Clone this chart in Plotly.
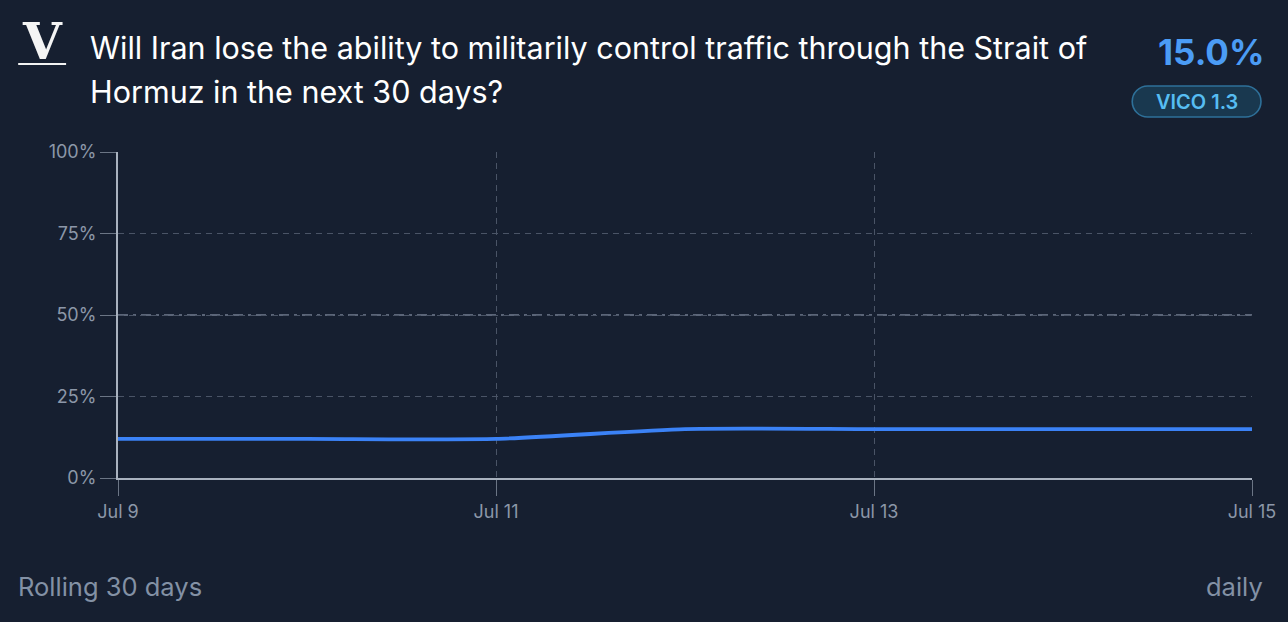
import plotly.graph_objects as go

# ---- data ----
dates = ["2025-07-09", "2025-07-10", "2025-07-11", "2025-07-12", "2025-07-13", "2025-07-14", "2025-07-15"]
probability = [12.0, 12.0, 12.0, 15.0, 15.0, 15.0, 15.0]
x_tick_vals = ["2025-07-09", "2025-07-11", "2025-07-13", "2025-07-15"]
x_tick_text = ["Jul 9", "Jul 11", "Jul 13", "Jul 15"]
y_tick_vals = [0, 25, 50, 75, 100]
y_tick_text = ["0%", "25%", "50%", "75%", "100%"]
title_lines = ["Will Iran lose the ability to militarily control traffic through the Strait of",
               "Hormuz in the next 30 days?"]
current_value = "15.0%"
badge_text = "VICO 1.3"
footer_left = "Rolling 30 days"
footer_right = "daily"

# ---- layout geometry (pixels) ----
W, H = 1288, 622
L, R, T, B = 118, 1254, 152, 478
PW, PH = R - L, B - T

def px(x):
    return (x - L) / PW

def py(y):
    return (B - y) / PH

BG = "#161f30"
FONT = "Inter, Roboto, sans-serif"
TICK_COLOR = "#8c97a8"
GRID = "#4a5466"
AXIS = "#a9b2bf"

fig = go.Figure()
fig.add_trace(go.Scatter(
    x=dates, y=probability, mode="lines",
    line=dict(color="#3b82f6", width=3.8, shape="spline", smoothing=0.6),
    hoverinfo="skip", showlegend=False,
))

# 50% reference line
fig.add_shape(type="line", xref="paper", yref="y", x0=0, x1=1, y0=50, y1=50,
              line=dict(color="#737e90", width=1.4, dash="10px,5px,3px,5px"), layer="below")

# badge pill
x1, x2, y1, y2 = 1134, 1263, 86, 117
r = (y2 - y1) / 2
k = 0.5523 * r
def P(x, y):
    return f"{px(x):.5f},{py(y):.5f}"
path = (f"M {P(x1 + r, y1)} L {P(x2 - r, y1)} "
        f"C {P(x2 - r + k, y1)} {P(x2, y1 + r - k)} {P(x2, y1 + r)} "
        f"C {P(x2, y1 + r + k)} {P(x2 - r + k, y2)} {P(x2 - r, y2)} "
        f"L {P(x1 + r, y2)} "
        f"C {P(x1 + r - k, y2)} {P(x1, y1 + r + k)} {P(x1, y1 + r)} "
        f"C {P(x1, y1 + r - k)} {P(x1 + r - k, y1)} {P(x1 + r, y1)} Z")
fig.add_shape(type="path", xref="paper", yref="paper", path=path,
              line=dict(color="#2e7099", width=1.6), fillcolor="#19384f")

# logo underline
fig.add_shape(type="line", xref="paper", yref="paper",
              x0=px(18), x1=px(66), y0=py(64), y1=py(64),
              line=dict(color="#f2f2f2", width=2))

ann = []
ann.append(dict(text="V", x=px(42), y=py(42), xanchor="center", yanchor="middle",
                font=dict(family="DejaVu Serif, Liberation Serif, serif", size=50, color="#f4f4f4", weight="bold")))
ann.append(dict(text=title_lines[0], x=px(88), y=py(47), xanchor="left", yanchor="middle",
                font=dict(family=FONT, size=30.5, color="#ffffff")))
ann.append(dict(text=title_lines[1], x=px(88), y=py(92), xanchor="left", yanchor="middle",
                font=dict(family=FONT, size=30.5, color="#ffffff")))
ann.append(dict(text=current_value, x=px(1268), y=py(52), xanchor="right", yanchor="middle",
                font=dict(family=FONT, size=35, color="#4b9cf5", weight=700)))
ann.append(dict(text=badge_text, x=px((x1 + x2) / 2), y=py((y1 + y2) / 2 + 0.5),
                xanchor="center", yanchor="middle",
                font=dict(family=FONT, size=20, color="#56bdf2", weight=600)))
ann.append(dict(text=footer_left, x=px(16), y=py(586), xanchor="left", yanchor="middle",
                font=dict(family=FONT, size=25.5, color="#8391a5")))
ann.append(dict(text=footer_right, x=px(1267), y=py(586), xanchor="right", yanchor="middle",
                font=dict(family=FONT, size=25.5, color="#8391a5")))
for a in ann:
    a.update(xref="paper", yref="paper", showarrow=False)

fig.update_layout(
    width=W, height=H,
    margin=dict(l=L, r=W - R, t=T, b=H - B, pad=0),
    paper_bgcolor=BG, plot_bgcolor=BG,
    annotations=ann,
    showlegend=False,
    xaxis=dict(
        type="date", range=[dates[0], dates[-1]],
        tickmode="array", tickvals=x_tick_vals, ticktext=x_tick_text,
        showgrid=True, gridcolor=GRID, griddash="6px,5px", gridwidth=1.4,
        showline=True, linecolor=AXIS, linewidth=2,
        ticks="outside", ticklen=16, tickcolor="#6b7585", tickwidth=1.4,
        tickfont=dict(family=FONT, size=18, color=TICK_COLOR),
        zeroline=False, fixedrange=True,
    ),
    yaxis=dict(
        range=[0, 100], tickmode="array", tickvals=y_tick_vals, ticktext=y_tick_text,
        showgrid=True, gridcolor=GRID, griddash="6px,5px", gridwidth=1.4,
        showline=True, linecolor=AXIS, linewidth=2,
        ticks="outside", ticklen=16, tickcolor="#6b7585", tickwidth=1.4,
        tickfont=dict(family=FONT, size=18, color=TICK_COLOR),
        zeroline=False, fixedrange=True,
    ),
)

fig.write_html(
    "out.html",
    config={"displayModeBar": False},
    post_script=("document.body.style.margin='0';document.body.style.overflow='hidden';"
                 "document.body.style.background='" + BG + "';"),
)
